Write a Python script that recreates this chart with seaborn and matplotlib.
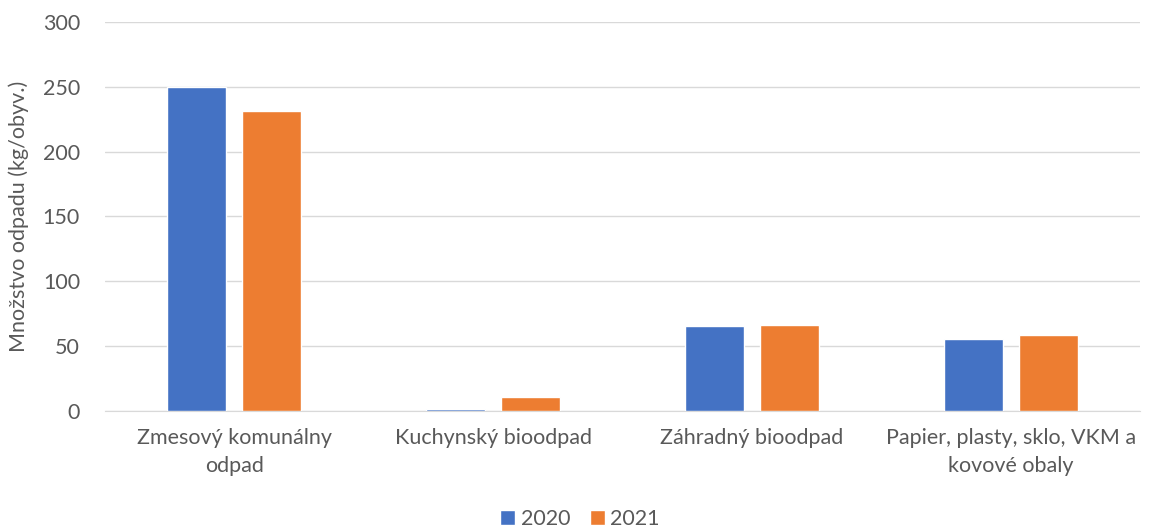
import pandas as pd
import matplotlib
import seaborn as sns
import matplotlib.pyplot as plt

matplotlib.use('Agg')

categories = ["Zmesový komunálny\nodpad", "Kuchynský bioodpad",
              "Záhradný bioodpad", "Papier, plasty, sklo, VKM a\nkovové obaly"]
years = ["2020", "2021"]
values_2020 = [250, 1.2, 65.5, 55.5]
values_2021 = [231, 11, 66, 58.6]

df = pd.DataFrame({
    "kategoria": categories * 2,
    "rok": [years[0]] * 4 + [years[1]] * 4,
    "hodnota": values_2020 + values_2021,
})

sns.set_style("white")
plt.rcParams['font.family'] = ['Lato', 'DejaVu Sans']
text_color = "#595959"

fig = plt.figure(figsize=[11.51, 5.31], dpi=100)
ax = fig.add_axes([105 / 1151, 1 - 411 / 531, (1140 - 105) / 1151, (411 - 22) / 531])
sns.barplot(data=df, x="kategoria", y="hodnota", hue="rok",
            palette=["#4472C4", "#ED7D31"], width=0.58, gap=0.213,
            saturation=1, ax=ax)

ax.set_ylim(0, 300)
ax.set_yticks(range(0, 301, 50))
ax.yaxis.grid(True, color="#D9D9D9", linewidth=1)
ax.set_axisbelow(True)
for s in ["top", "right", "left"]:
    ax.spines[s].set_visible(False)
ax.spines["bottom"].set_color("#D9D9D9")
ax.spines["bottom"].set_zorder(0.5)
ax.tick_params(axis="both", length=0, labelsize=15.5, colors=text_color)
ax.tick_params(axis="x", pad=12)
ax.tick_params(axis="y", pad=18)
for lbl in ax.get_xticklabels():
    lbl.set_linespacing(1.55)
ax.set_xlabel("")
ax.set_ylabel("Množstvo odpadu (kg/obyv.)", fontsize=15.5, color=text_color, labelpad=10)

handles, labels = ax.get_legend_handles_labels()
ax.get_legend().remove()
fig.legend(handles, labels, loc="center", bbox_to_anchor=(580 / 1151, 1 - 519 / 531),
           ncol=2, frameon=False, fontsize=15.5, labelcolor=text_color,
           handlelength=0.7, handleheight=0.7, columnspacing=0.9, handletextpad=0.25,
           borderaxespad=0, borderpad=0)

plt.savefig("out.png", dpi=100)
